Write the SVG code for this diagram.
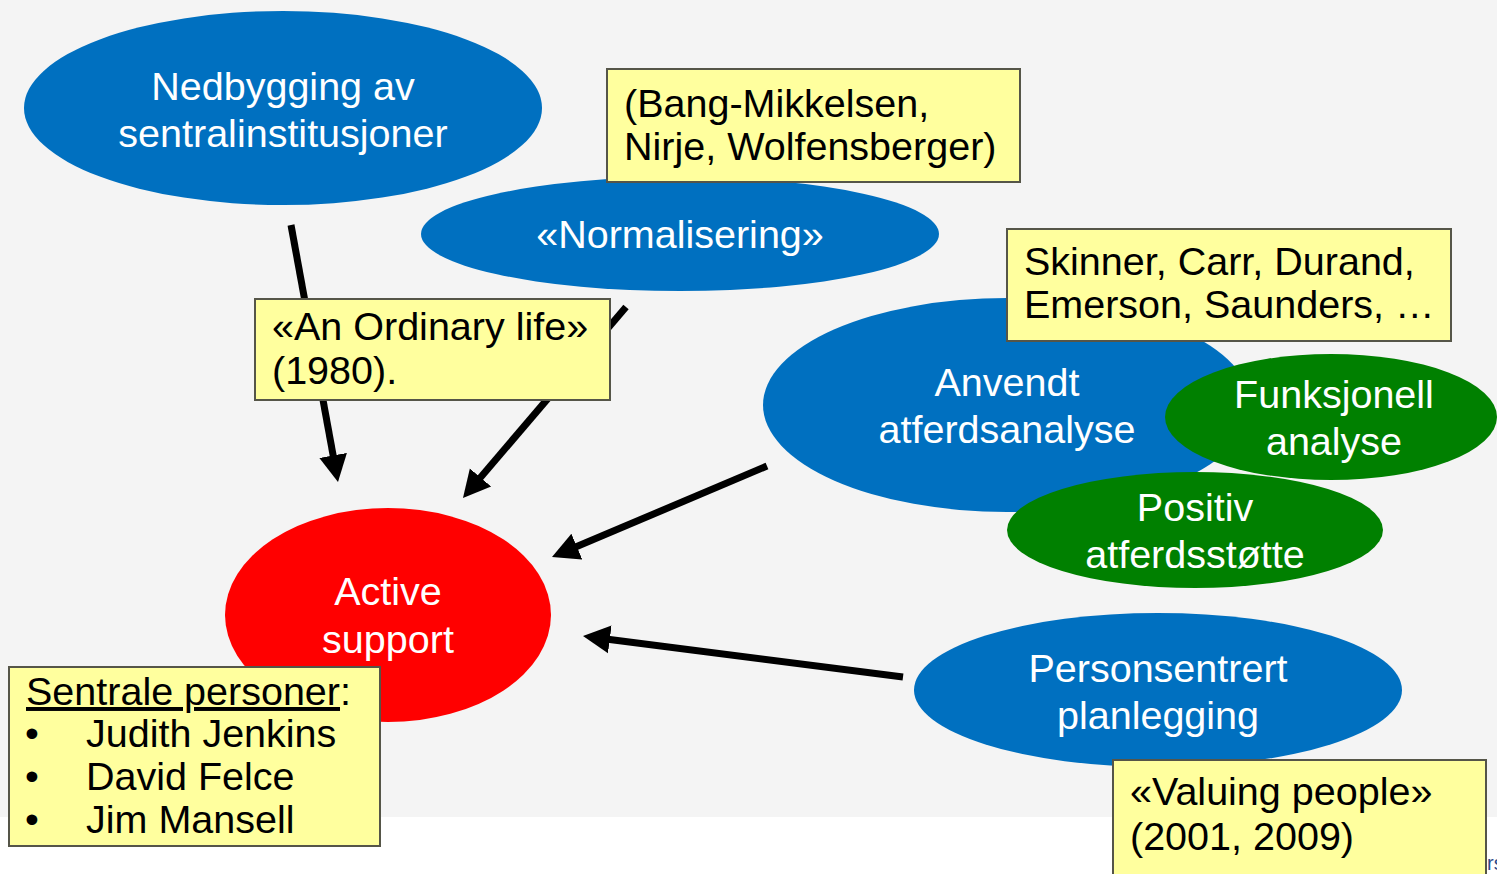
<svg xmlns="http://www.w3.org/2000/svg" width="1497" height="874" viewBox="0 0 1497 874">
  <style>
    .lbl { font-family: "Liberation Sans", Arial, sans-serif; font-size: 39.5px; }
    .on-fill { fill: #ffffff; text-anchor: middle; }
    .on-note { fill: #000000; }
    .blue { fill: #0070c0; }
    .green { fill: #008000; }
    .note { fill: #ffff9e; stroke: #555548; stroke-width: 2; }
    .link { stroke: #000000; stroke-width: 7; fill: none; marker-end: url(#head); }
  </style>
  <defs>
    <marker id="head" markerUnits="userSpaceOnUse" viewBox="0 -15 28 30" markerWidth="28" markerHeight="30" refX="2" refY="0" orient="auto">
      <path d="M0,-14 L27,0 L0,14 z" fill="#000000"/>
    </marker>
  </defs>

  <!-- slide backdrop -->
  <rect x="0" y="0" width="1497" height="874" fill="#ffffff"/>
  <rect x="0" y="0" width="1497" height="817" fill="#f4f4f4"/>
  <text x="1487" y="870" font-family="Liberation Sans, Arial, sans-serif" font-size="20" fill="#2b4a8b">rs</text>

  <!-- influence arrows -->
  <g id="connectors">
    <line class="link" x1="291" y1="225" x2="333.5" y2="457.4"/>
    <line class="link" x1="626" y1="307" x2="479.2" y2="479"/>
    <line class="link" x1="767" y1="466" x2="575" y2="547.3"/>
    <line class="link" x1="903" y1="677" x2="607.8" y2="639.2"/>
  </g>

  <g id="nedbygging">
    <ellipse class="blue" cx="283" cy="108" rx="259" ry="97"/>
    <text class="lbl on-fill" x="283" y="100">Nedbygging av</text>
    <text class="lbl on-fill" x="283" y="147">sentralinstitusjoner</text>
  </g>

  <g id="normalisering">
    <ellipse class="blue" cx="680" cy="234" rx="259" ry="57"/>
    <text class="lbl on-fill" x="680" y="248">«Normalisering»</text>
  </g>

  <g id="note-normalisering">
    <rect class="note" x="607" y="69" width="413" height="113"/>
    <text class="lbl on-note" x="624" y="117">(Bang-Mikkelsen,</text>
    <text class="lbl on-note" x="624" y="160">Nirje, Wolfensberger)</text>
  </g>

  <g id="note-ordinary-life">
    <rect class="note" x="255" y="299" width="355" height="101"/>
    <text class="lbl on-note" x="272" y="340">«An Ordinary life»</text>
    <text class="lbl on-note" x="272" y="384">(1980).</text>
  </g>

  <g id="anvendt">
    <ellipse class="blue" cx="1007" cy="405" rx="244" ry="107"/>
    <text class="lbl on-fill" x="1007" y="396">Anvendt</text>
    <text class="lbl on-fill" x="1007" y="443">atferdsanalyse</text>
  </g>

  <g id="note-anvendt">
    <rect class="note" x="1007" y="229" width="444" height="112"/>
    <text class="lbl on-note" x="1024" y="275">Skinner, Carr, Durand,</text>
    <text class="lbl on-note" x="1024" y="318">Emerson, Saunders, …</text>
  </g>

  <g id="funksjonell">
    <ellipse class="green" cx="1331" cy="417" rx="166" ry="63"/>
    <text class="lbl on-fill" x="1334" y="408">Funksjonell</text>
    <text class="lbl on-fill" x="1334" y="455">analyse</text>
  </g>

  <g id="positiv">
    <ellipse class="green" cx="1195" cy="530" rx="188" ry="58"/>
    <text class="lbl on-fill" x="1195" y="521">Positiv</text>
    <text class="lbl on-fill" x="1195" y="568">atferdsstøtte</text>
  </g>

  <g id="personsentrert">
    <ellipse class="blue" cx="1158" cy="690" rx="244" ry="77"/>
    <text class="lbl on-fill" x="1158" y="682">Personsentrert</text>
    <text class="lbl on-fill" x="1158" y="729">planlegging</text>
  </g>

  <g id="note-personsentrert">
    <rect class="note" x="1113" y="760" width="373" height="120"/>
    <text class="lbl on-note" x="1130" y="805">«Valuing people»</text>
    <text class="lbl on-note" x="1130" y="850">(2001, 2009)</text>
  </g>

  <g id="active-support">
    <ellipse cx="388" cy="615" rx="163" ry="107" fill="#ff0000"/>
    <text class="lbl on-fill" x="388" y="605">Active</text>
    <text class="lbl on-fill" x="388" y="653">support</text>
  </g>

  <g id="note-personer">
    <rect class="note" x="9" y="667" width="371" height="179"/>
    <text class="lbl on-note" x="26" y="705"><tspan text-decoration="underline">Sentrale personer</tspan>:</text>
    <text class="lbl on-note" x="25" y="747">•</text>
    <text class="lbl on-note" x="86" y="747">Judith Jenkins</text>
    <text class="lbl on-note" x="25" y="790">•</text>
    <text class="lbl on-note" x="86" y="790">David Felce</text>
    <text class="lbl on-note" x="25" y="833">•</text>
    <text class="lbl on-note" x="86" y="833">Jim Mansell</text>
  </g>
</svg>
